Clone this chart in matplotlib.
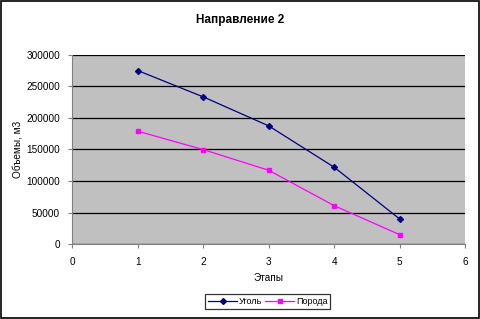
import matplotlib
matplotlib.use("Agg")
import matplotlib.pyplot as plt
from matplotlib.patches import Rectangle

stages = [1, 2, 3, 4, 5]
coal = [275000, 233300, 187300, 121700, 39700]
rock = [178900, 149700, 116900, 60800, 14800]

plt.rcParams["font.family"] = ["Liberation Sans", "DejaVu Sans"]

fig = plt.figure(figsize=(4.8, 3.19), dpi=100)
fig.patches.append(Rectangle((0.002, 0.003), 0.996, 0.994, transform=fig.transFigure,
                             fill=False, edgecolor="black", linewidth=1.2))

ax = fig.add_axes([0.151, 0.235, 0.818, 0.593])
ax.set_facecolor("#c0c0c0")
ax.plot(stages, coal, color="#000080", marker="D", markersize=3, linewidth=0.9, label="Уголь")
ax.plot(stages, rock, color="#ff00ff", marker="s", markersize=3.5, linewidth=0.9, label="Порода")

ax.set_xlim(0, 6)
ax.set_ylim(0, 300000)
ax.set_xticks(range(0, 7))
ax.set_yticks(range(0, 300001, 50000))
ax.yaxis.grid(True, color="black", linewidth=0.9)
ax.set_axisbelow(True)
for s in ["top", "right"]:
    ax.spines[s].set_visible(False)
for s in ["left", "bottom"]:
    ax.spines[s].set_color("#808080")
ax.tick_params(labelsize=7.2, length=3, color="#808080", pad=6)

ax.set_xlabel("Этапы", fontsize=7.2, labelpad=5)
ax.set_ylabel("Объемы, м3", fontsize=7.2, labelpad=3)
fig.text(0.5, 0.937, "Направление 2", ha="center", va="center", fontsize=8.5, fontweight="bold")

leg = fig.legend(loc="center", bbox_to_anchor=(0.558, 0.054), ncol=2, fontsize=6.5,
                 frameon=True, fancybox=False, edgecolor="black", handlelength=3.2,
                 handletextpad=0.2, columnspacing=0.3, borderpad=0.35)
leg.get_frame().set_linewidth(0.9)

fig.savefig("out.png", dpi=100)
